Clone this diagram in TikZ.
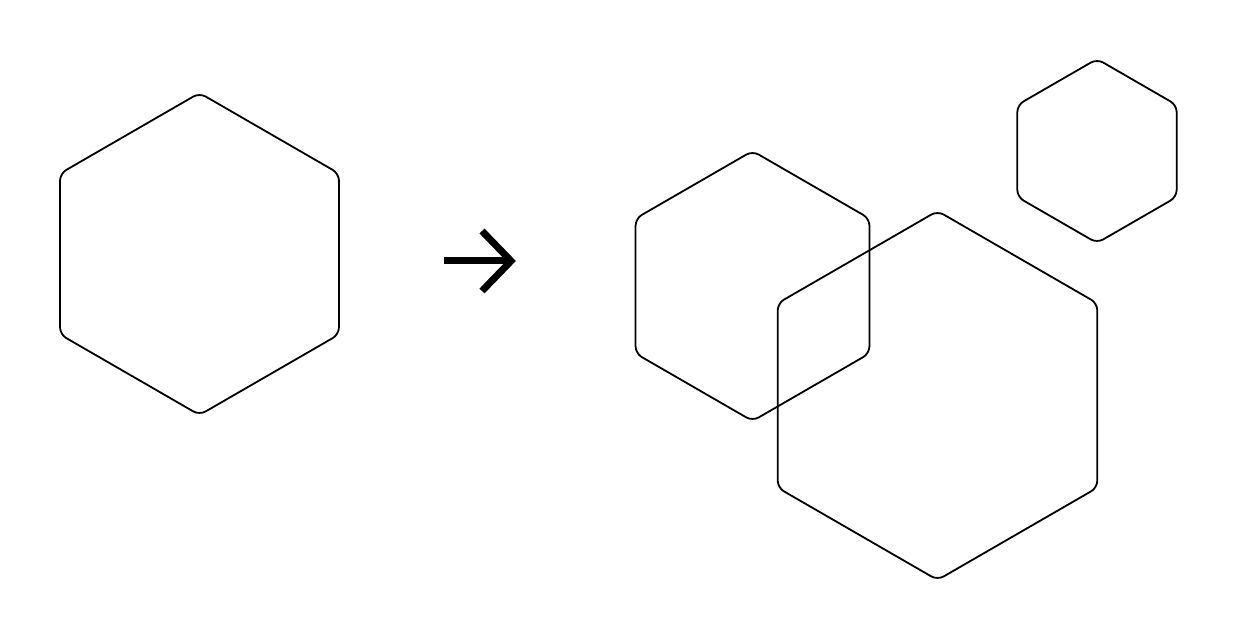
\documentclass[tikz,border=0pt]{standalone}
\begin{document}
\begin{tikzpicture}[x=1pt,y=1pt,
  hex/.style={draw=black,line width=1.8pt,rounded corners=7pt,line join=round},
  arrowline/.style={draw=black,line width=7pt}]
\useasboundingbox (0,0) rectangle (1236,640);
\newcommand{\hexagonat}[3]{%
  \draw[hex] (#1,#2) ++(90:#3) -- ++(210:#3) -- ++(270:#3) -- ++(330:#3) -- ++(30:#3) -- ++(90:#3) -- cycle;}
\hexagonat{199.5}{386}{161}
\hexagonat{752.5}{354}{135}
\hexagonat{1097}{489}{92}
\hexagonat{937.5}{244.5}{184.5}
\coordinate (tail) at (444,379);
\coordinate (tip) at (511,379);
\coordinate (barbup) at (482,409);
\coordinate (barbdown) at (482,349);
\draw[arrowline] (tail) -- (tip);
\draw[arrowline,line join=miter] (barbup) -- (tip) -- (barbdown);
\end{tikzpicture}
\end{document}
